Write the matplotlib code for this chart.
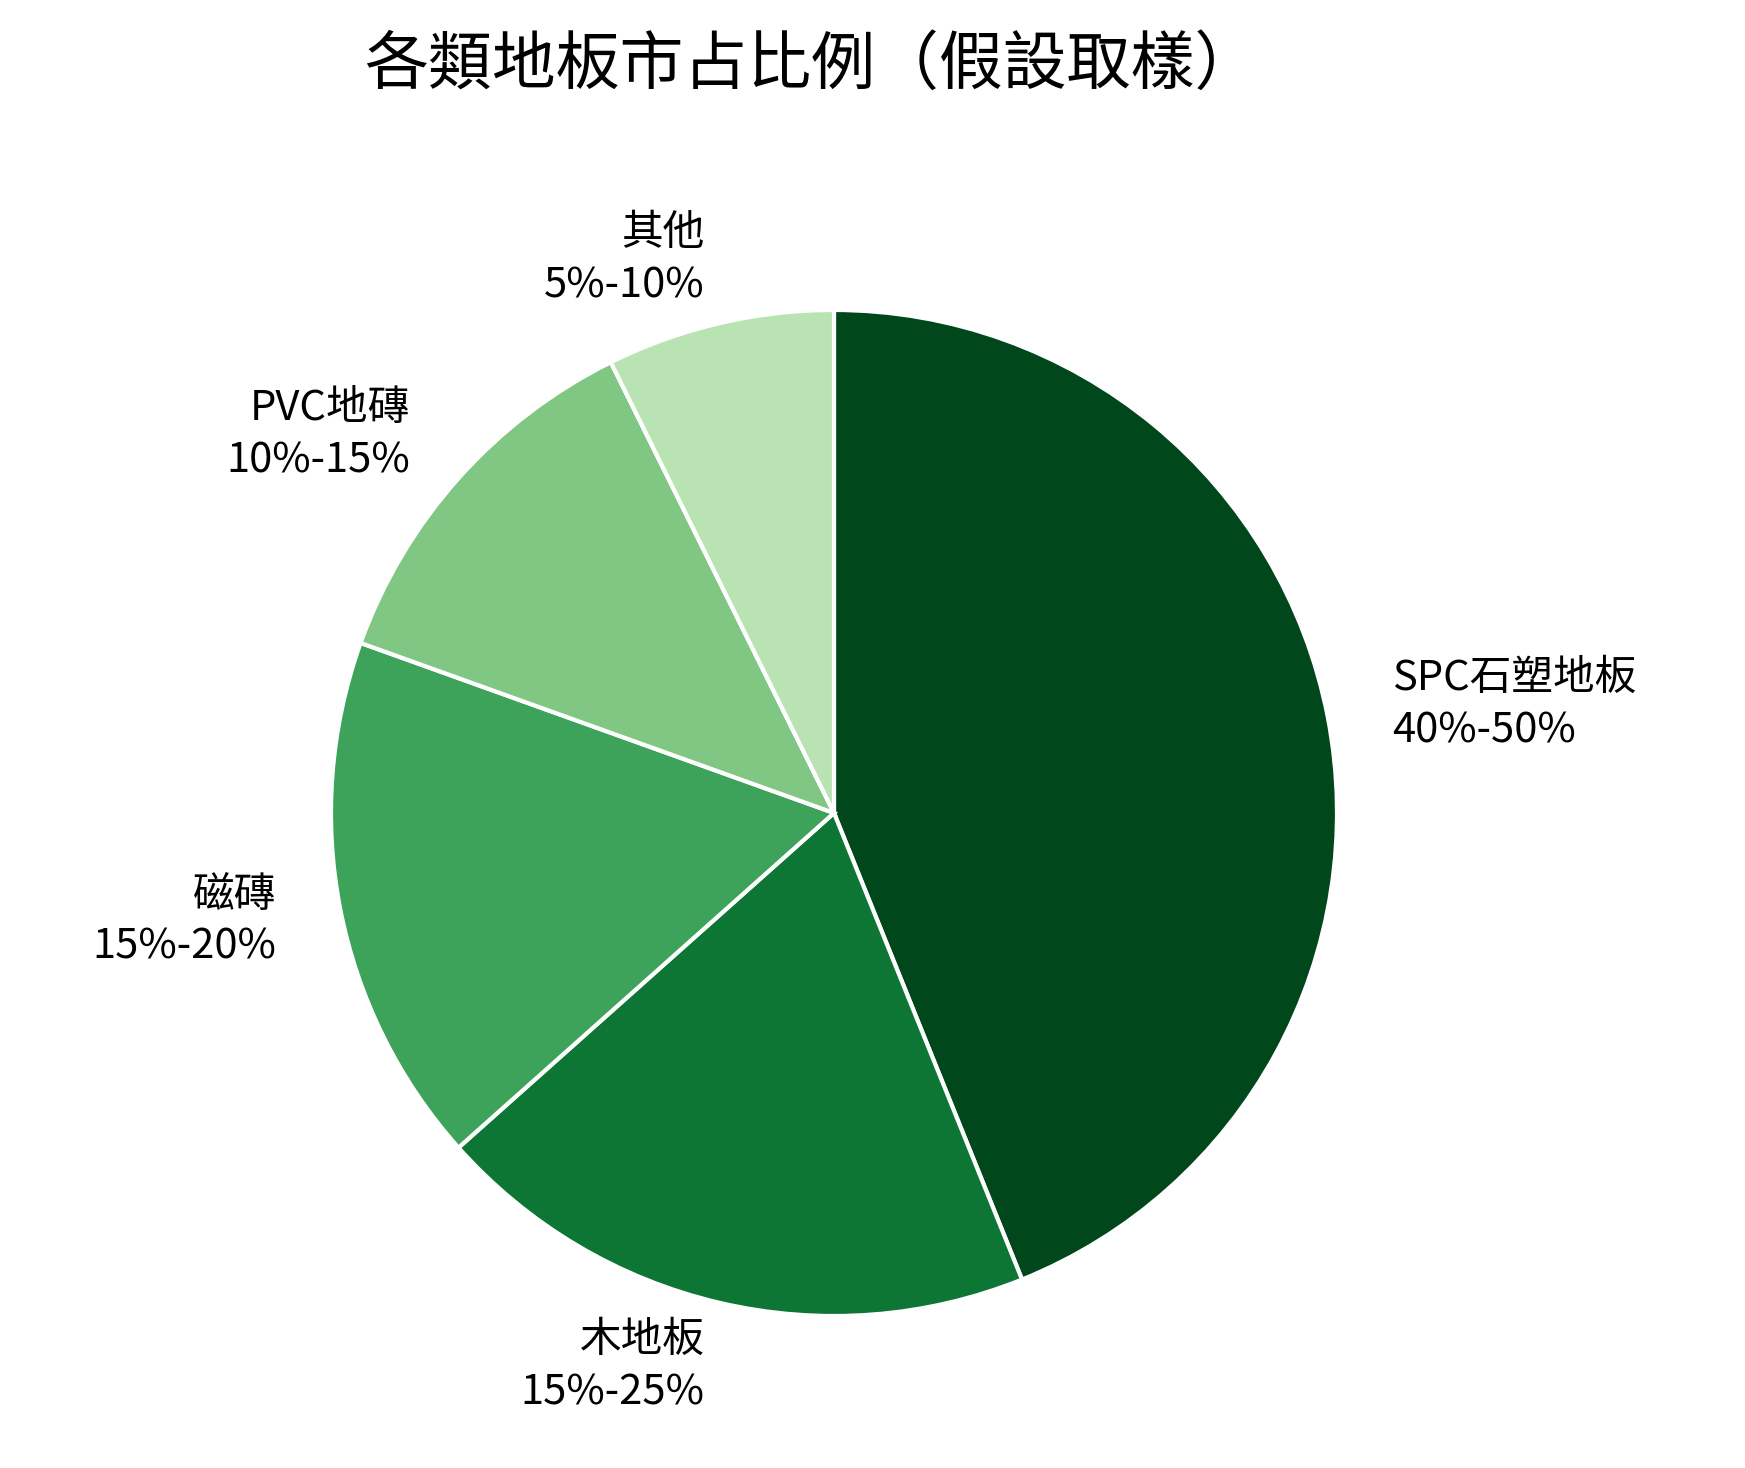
import matplotlib
matplotlib.use("Agg")
import matplotlib.pyplot as plt

plt.rcParams['font.family'] = ['Noto Sans CJK TC', 'DejaVu Sans']

categories = ["SPC石塑地板", "木地板", "磁磚", "PVC地磚", "其他"]
ranges = ["40%-50%", "15%-25%", "15%-20%", "10%-15%", "5%-10%"]
values = [45, 20, 17.5, 12.5, 7.5]
colors = ["#00471b", "#0e7635", "#3da35a", "#80c783", "#b9e3b2"]

W, H = 1745, 1468
fig = plt.figure(figsize=(W/100, H/100), dpi=100)
r = 503
cx, cy = 834, 655
ax = fig.add_axes([(cx-r)/W, (cy-r)/H, 2*r/W, 2*r/H])
labels = [f"{c}\n{v}" for c, v in zip(categories, ranges)]
wedges, texts = ax.pie(values, labels=labels, colors=colors, startangle=90,
                       counterclock=False, labeldistance=1.13,
                       wedgeprops=dict(edgecolor="white", linewidth=3),
                       textprops=dict(fontsize=30, linespacing=1.35))
for t in texts:
    t.set_multialignment(t.get_ha())
ax.set_xlim(-1, 1); ax.set_ylim(-1, 1)
ax.set_aspect('equal')
fig.text(0.465, 0.955, "各類地板市占比例（假設取樣）", ha="center", va="center", fontsize=46)
fig.savefig("out.png", dpi=100)
